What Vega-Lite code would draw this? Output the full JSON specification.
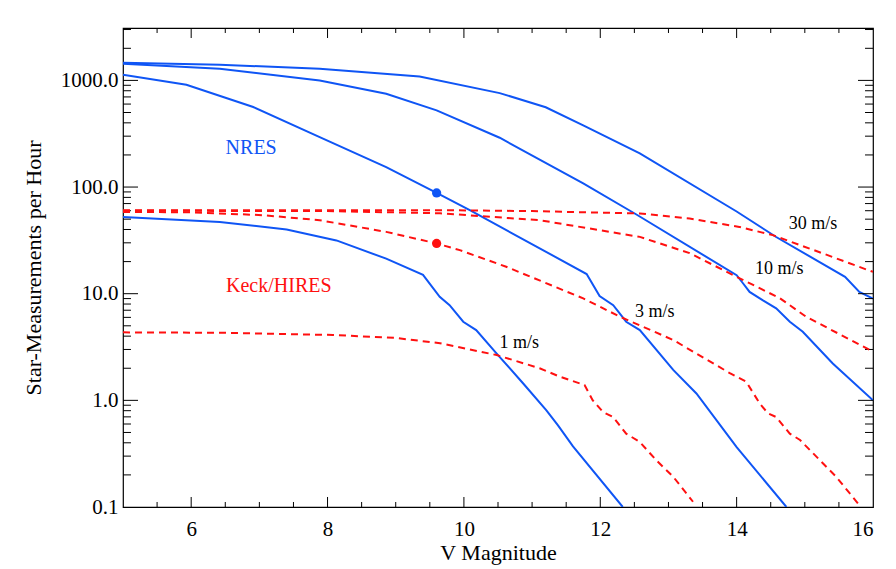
{
  "$schema": "https://vega.github.io/schema/vega-lite/v6.json",
  "autosize": {"type": "none"},
  "padding": {"left": 123, "top": 28, "right": 23, "bottom": 62},
  "width": 750,
  "height": 479,
  "background": "white",
  "view": {"stroke": "black", "strokeWidth": 1.2},
  "config": {
    "font": "Liberation Serif",
    "axis": {"labelFont": "Liberation Serif", "titleFont": "Liberation Serif", "labelColor": "black", "titleColor": "black", "titleFontWeight": "normal"}
  },
  "datasets": {
    "curves": [
      {"inst": "NRES", "curve": "n30", "V": 5.0, "N": 1465},
      {"inst": "NRES", "curve": "n30", "V": 6.42, "N": 1403},
      {"inst": "NRES", "curve": "n30", "V": 7.885, "N": 1287},
      {"inst": "NRES", "curve": "n30", "V": 9.35, "N": 1090},
      {"inst": "NRES", "curve": "n30", "V": 10.525, "N": 760},
      {"inst": "NRES", "curve": "n30", "V": 11.2, "N": 560},
      {"inst": "NRES", "curve": "n30", "V": 11.75, "N": 379},
      {"inst": "NRES", "curve": "n30", "V": 12.58, "N": 207},
      {"inst": "NRES", "curve": "n30", "V": 14.0, "N": 59},
      {"inst": "NRES", "curve": "n30", "V": 14.58, "N": 34},
      {"inst": "NRES", "curve": "n30", "V": 15.59, "N": 14.4},
      {"inst": "NRES", "curve": "n30", "V": 15.8, "N": 10.4},
      {"inst": "NRES", "curve": "n30", "V": 16.0, "N": 9.0},

      {"inst": "NRES", "curve": "n10", "V": 5.0, "N": 1430},
      {"inst": "NRES", "curve": "n10", "V": 6.42, "N": 1287},
      {"inst": "NRES", "curve": "n10", "V": 7.885, "N": 1000},
      {"inst": "NRES", "curve": "n10", "V": 8.86, "N": 750},
      {"inst": "NRES", "curve": "n10", "V": 9.6, "N": 524},
      {"inst": "NRES", "curve": "n10", "V": 10.525, "N": 290},
      {"inst": "NRES", "curve": "n10", "V": 11.75, "N": 108},
      {"inst": "NRES", "curve": "n10", "V": 12.53, "N": 55.3},
      {"inst": "NRES", "curve": "n10", "V": 14.0, "N": 14.9},
      {"inst": "NRES", "curve": "n10", "V": 14.09, "N": 12.6},
      {"inst": "NRES", "curve": "n10", "V": 14.19, "N": 10.4},
      {"inst": "NRES", "curve": "n10", "V": 14.38, "N": 8.7},
      {"inst": "NRES", "curve": "n10", "V": 14.58, "N": 7.28},
      {"inst": "NRES", "curve": "n10", "V": 14.78, "N": 5.46},
      {"inst": "NRES", "curve": "n10", "V": 14.97, "N": 4.4},
      {"inst": "NRES", "curve": "n10", "V": 15.41, "N": 2.22},
      {"inst": "NRES", "curve": "n10", "V": 16.0, "N": 1.0},

      {"inst": "NRES", "curve": "n3", "V": 5.0, "N": 1131},
      {"inst": "NRES", "curve": "n3", "V": 5.93, "N": 911},
      {"inst": "NRES", "curve": "n3", "V": 6.91, "N": 563},
      {"inst": "NRES", "curve": "n3", "V": 7.885, "N": 294},
      {"inst": "NRES", "curve": "n3", "V": 8.86, "N": 154},
      {"inst": "NRES", "curve": "n3", "V": 9.6, "N": 88},
      {"inst": "NRES", "curve": "n3", "V": 10.1, "N": 60},
      {"inst": "NRES", "curve": "n3", "V": 11.8, "N": 15.3},
      {"inst": "NRES", "curve": "n3", "V": 11.99, "N": 9.5},
      {"inst": "NRES", "curve": "n3", "V": 12.19, "N": 7.8},
      {"inst": "NRES", "curve": "n3", "V": 12.38, "N": 5.46},
      {"inst": "NRES", "curve": "n3", "V": 12.58, "N": 4.56},
      {"inst": "NRES", "curve": "n3", "V": 13.07, "N": 1.93},
      {"inst": "NRES", "curve": "n3", "V": 13.41, "N": 1.16},
      {"inst": "NRES", "curve": "n3", "V": 14.0, "N": 0.365},
      {"inst": "NRES", "curve": "n3", "V": 14.73, "N": 0.1},

      {"inst": "NRES", "curve": "n1", "V": 5.0, "N": 52.5},
      {"inst": "NRES", "curve": "n1", "V": 6.42, "N": 47.1},
      {"inst": "NRES", "curve": "n1", "V": 7.4, "N": 40},
      {"inst": "NRES", "curve": "n1", "V": 8.13, "N": 31.6},
      {"inst": "NRES", "curve": "n1", "V": 8.86, "N": 21.3},
      {"inst": "NRES", "curve": "n1", "V": 9.4, "N": 15.0},
      {"inst": "NRES", "curve": "n1", "V": 9.645, "N": 9.35},
      {"inst": "NRES", "curve": "n1", "V": 9.79, "N": 7.8},
      {"inst": "NRES", "curve": "n1", "V": 9.99, "N": 5.46},
      {"inst": "NRES", "curve": "n1", "V": 10.18, "N": 4.56},
      {"inst": "NRES", "curve": "n1", "V": 10.5, "N": 2.66},
      {"inst": "NRES", "curve": "n1", "V": 10.87, "N": 1.44},
      {"inst": "NRES", "curve": "n1", "V": 11.21, "N": 0.806},
      {"inst": "NRES", "curve": "n1", "V": 11.38, "N": 0.583},
      {"inst": "NRES", "curve": "n1", "V": 11.6, "N": 0.37},
      {"inst": "NRES", "curve": "n1", "V": 12.33, "N": 0.1},

      {"inst": "Keck", "curve": "k30", "V": 5.0, "N": 60.7},
      {"inst": "Keck", "curve": "k30", "V": 9.65, "N": 60.7},
      {"inst": "Keck", "curve": "k30", "V": 11.0, "N": 59.5},
      {"inst": "Keck", "curve": "k30", "V": 12.58, "N": 56.5},
      {"inst": "Keck", "curve": "k30", "V": 13.31, "N": 50.7},
      {"inst": "Keck", "curve": "k30", "V": 14.04, "N": 42.3},
      {"inst": "Keck", "curve": "k30", "V": 14.53, "N": 35.4},
      {"inst": "Keck", "curve": "k30", "V": 15.27, "N": 23.8},
      {"inst": "Keck", "curve": "k30", "V": 16.0, "N": 16.0},

      {"inst": "Keck", "curve": "k10", "V": 5.0, "N": 60},
      {"inst": "Keck", "curve": "k10", "V": 8.0, "N": 59.5},
      {"inst": "Keck", "curve": "k10", "V": 9.65, "N": 56.8},
      {"inst": "Keck", "curve": "k10", "V": 11.11, "N": 48.9},
      {"inst": "Keck", "curve": "k10", "V": 12.58, "N": 34.1},
      {"inst": "Keck", "curve": "k10", "V": 13.31, "N": 24},
      {"inst": "Keck", "curve": "k10", "V": 14.0, "N": 14.4},
      {"inst": "Keck", "curve": "k10", "V": 14.63, "N": 9.1},
      {"inst": "Keck", "curve": "k10", "V": 15.02, "N": 6.08},
      {"inst": "Keck", "curve": "k10", "V": 16.0, "N": 2.86},

      {"inst": "Keck", "curve": "k3", "V": 5.0, "N": 58.5},
      {"inst": "Keck", "curve": "k3", "V": 6.0, "N": 58},
      {"inst": "Keck", "curve": "k3", "V": 7.05, "N": 54.5},
      {"inst": "Keck", "curve": "k3", "V": 7.885, "N": 48.9},
      {"inst": "Keck", "curve": "k3", "V": 8.86, "N": 38.0},
      {"inst": "Keck", "curve": "k3", "V": 9.6, "N": 29.6},
      {"inst": "Keck", "curve": "k3", "V": 9.94, "N": 25.6},
      {"inst": "Keck", "curve": "k3", "V": 10.62, "N": 17.9},
      {"inst": "Keck", "curve": "k3", "V": 11.75, "N": 9.04},
      {"inst": "Keck", "curve": "k3", "V": 12.29, "N": 6.08},
      {"inst": "Keck", "curve": "k3", "V": 13.07, "N": 3.68},
      {"inst": "Keck", "curve": "k3", "V": 13.9, "N": 1.8},
      {"inst": "Keck", "curve": "k3", "V": 14.14, "N": 1.5},
      {"inst": "Keck", "curve": "k3", "V": 14.34, "N": 0.93},
      {"inst": "Keck", "curve": "k3", "V": 14.46, "N": 0.756},
      {"inst": "Keck", "curve": "k3", "V": 14.58, "N": 0.697},
      {"inst": "Keck", "curve": "k3", "V": 14.78, "N": 0.487},
      {"inst": "Keck", "curve": "k3", "V": 14.93, "N": 0.425},
      {"inst": "Keck", "curve": "k3", "V": 15.22, "N": 0.275},
      {"inst": "Keck", "curve": "k3", "V": 15.46, "N": 0.192},
      {"inst": "Keck", "curve": "k3", "V": 15.78, "N": 0.108},

      {"inst": "Keck", "curve": "k1", "V": 5.0, "N": 4.34},
      {"inst": "Keck", "curve": "k1", "V": 6.5, "N": 4.3},
      {"inst": "Keck", "curve": "k1", "V": 8.08, "N": 4.1},
      {"inst": "Keck", "curve": "k1", "V": 9.0, "N": 3.85},
      {"inst": "Keck", "curve": "k1", "V": 9.65, "N": 3.43},
      {"inst": "Keck", "curve": "k1", "V": 10.48, "N": 2.66},
      {"inst": "Keck", "curve": "k1", "V": 11.11, "N": 2.0},
      {"inst": "Keck", "curve": "k1", "V": 11.405, "N": 1.67},
      {"inst": "Keck", "curve": "k1", "V": 11.77, "N": 1.39},
      {"inst": "Keck", "curve": "k1", "V": 11.89, "N": 1.0},
      {"inst": "Keck", "curve": "k1", "V": 12.04, "N": 0.777},
      {"inst": "Keck", "curve": "k1", "V": 12.19, "N": 0.697},
      {"inst": "Keck", "curve": "k1", "V": 12.38, "N": 0.487},
      {"inst": "Keck", "curve": "k1", "V": 12.58, "N": 0.407},
      {"inst": "Keck", "curve": "k1", "V": 12.82, "N": 0.275},
      {"inst": "Keck", "curve": "k1", "V": 13.07, "N": 0.192},
      {"inst": "Keck", "curve": "k1", "V": 13.36, "N": 0.112}
    ],
    "dots": [
      {"inst": "NRES", "V": 9.6, "N": 88},
      {"inst": "Keck", "V": 9.6, "N": 29.6}
    ],
    "names": [
      {"text": "NRES", "inst": "NRES", "V": 6.88, "N": 203},
      {"text": "Keck/HIRES", "inst": "Keck", "V": 7.285, "N": 10.4}
    ],
    "precisions": [
      {"text": "30 m/s", "V": 15.12, "N": 40.8},
      {"text": "10 m/s", "V": 14.625, "N": 15.3},
      {"text": "3 m/s", "V": 12.8, "N": 6.08},
      {"text": "1 m/s", "V": 10.81, "N": 3.08}
    ],
    "xmajor": [{"V": 6}, {"V": 8}, {"V": 10}, {"V": 12}, {"V": 14}],
    "xminor": [
      {"V": 5.5}, {"V": 6.5}, {"V": 7}, {"V": 7.5}, {"V": 8.5}, {"V": 9}, {"V": 9.5}, {"V": 10.5},
      {"V": 11}, {"V": 11.5}, {"V": 12.5}, {"V": 13}, {"V": 13.5}, {"V": 14.5}, {"V": 15}, {"V": 15.5}
    ],
    "ymajor": [{"N": 1}, {"N": 10}, {"N": 100}, {"N": 1000}],
    "yminor": [
      {"N": 0.2}, {"N": 0.3}, {"N": 0.4}, {"N": 0.5}, {"N": 0.6}, {"N": 0.7}, {"N": 0.8}, {"N": 0.9},
      {"N": 2}, {"N": 3}, {"N": 4}, {"N": 5}, {"N": 6}, {"N": 7}, {"N": 8}, {"N": 9},
      {"N": 20}, {"N": 30}, {"N": 40}, {"N": 50}, {"N": 60}, {"N": 70}, {"N": 80}, {"N": 90},
      {"N": 200}, {"N": 300}, {"N": 400}, {"N": 500}, {"N": 600}, {"N": 700}, {"N": 800}, {"N": 900},
      {"N": 2000}, {"N": 3000}
    ]
  },
  "resolve": {"axis": {"x": "independent", "y": "independent"}},
  "layer": [
    {
      "data": {"name": "curves"},
      "transform": [{"filter": "datum.inst === 'NRES'"}],
      "mark": {"type": "line", "color": "#0f55f5", "strokeWidth": 2, "clip": true},
      "encoding": {
        "x": {"field": "V", "type": "quantitative", "scale": {"domain": [5, 16], "nice": false, "zero": false},
          "axis": {"orient": "bottom", "values": [6, 8, 10, 12, 14, 16], "ticks": false, "grid": false, "domain": false, "labelFontSize": 21, "labelPadding": 11, "title": "V Magnitude", "titleFontSize": 22, "titlePadding": 3}},
        "y": {"field": "N", "type": "quantitative", "scale": {"type": "log", "domain": [0.1, 3100], "nice": false},
          "axis": {"orient": "left", "values": [0.1, 1, 10, 100, 1000], "ticks": false, "grid": false, "domain": false, "labelFontSize": 21, "labelPadding": 5,
            "labelExpr": "datum.value < 0.5 ? '0.1' : format(datum.value, '.1f')",
            "title": "Star-Measurements per Hour", "titleFontSize": 22, "titleX": -90, "titleAngle": -90, "titleAlign": "center", "titleBaseline": "middle"}},
        "detail": {"field": "curve"}
      }
    },
    {
      "data": {"name": "xmajor"},
      "mark": {"type": "rule", "color": "black", "strokeWidth": 1},
      "encoding": {"x": {"field": "V", "type": "quantitative", "axis": null}, "y": {"datum": 0.1, "type": "quantitative", "axis": null}, "y2": {"datum": 0.1241}}
    },
    {
      "data": {"name": "xminor"},
      "mark": {"type": "rule", "color": "black", "strokeWidth": 1},
      "encoding": {"x": {"field": "V", "type": "quantitative", "axis": null}, "y": {"datum": 0.1, "type": "quantitative", "axis": null}, "y2": {"datum": 0.1114}}
    },
    {
      "data": {"name": "xmajor"},
      "mark": {"type": "rule", "color": "black", "strokeWidth": 1},
      "encoding": {"x": {"field": "V", "type": "quantitative", "axis": null}, "y": {"datum": 3100, "type": "quantitative", "axis": null}, "y2": {"datum": 2498}}
    },
    {
      "data": {"name": "xminor"},
      "mark": {"type": "rule", "color": "black", "strokeWidth": 1},
      "encoding": {"x": {"field": "V", "type": "quantitative", "axis": null}, "y": {"datum": 3100, "type": "quantitative", "axis": null}, "y2": {"datum": 2783}}
    },
    {
      "data": {"name": "ymajor"},
      "mark": {"type": "rule", "color": "black", "strokeWidth": 1},
      "encoding": {"y": {"field": "N", "type": "quantitative", "axis": null}, "x": {"datum": 5, "type": "quantitative", "axis": null}, "x2": {"datum": 5.22}}
    },
    {
      "data": {"name": "yminor"},
      "mark": {"type": "rule", "color": "black", "strokeWidth": 1},
      "encoding": {"y": {"field": "N", "type": "quantitative", "axis": null}, "x": {"datum": 5, "type": "quantitative", "axis": null}, "x2": {"datum": 5.117}}
    },
    {
      "data": {"name": "ymajor"},
      "mark": {"type": "rule", "color": "black", "strokeWidth": 1},
      "encoding": {"y": {"field": "N", "type": "quantitative", "axis": null}, "x": {"datum": 16, "type": "quantitative", "axis": null}, "x2": {"datum": 15.78}}
    },
    {
      "data": {"name": "yminor"},
      "mark": {"type": "rule", "color": "black", "strokeWidth": 1},
      "encoding": {"y": {"field": "N", "type": "quantitative", "axis": null}, "x": {"datum": 16, "type": "quantitative", "axis": null}, "x2": {"datum": 15.883}}
    },
    {
      "data": {"name": "curves"},
      "transform": [{"filter": "datum.inst === 'Keck'"}],
      "mark": {"type": "line", "color": "#ff1010", "strokeWidth": 2, "strokeDash": [7, 5], "clip": true},
      "encoding": {
        "x": {"field": "V", "type": "quantitative", "axis": null},
        "y": {"field": "N", "type": "quantitative", "axis": null},
        "detail": {"field": "curve"}
      }
    },
    {
      "data": {"name": "dots"},
      "mark": {"type": "circle", "size": 85, "opacity": 1},
      "encoding": {
        "x": {"field": "V", "type": "quantitative", "axis": null},
        "y": {"field": "N", "type": "quantitative", "axis": null},
        "color": {"field": "inst", "type": "nominal", "scale": {"domain": ["NRES", "Keck"], "range": ["#0f55f5", "#ff1010"]}, "legend": null}
      }
    },
    {
      "data": {"name": "names"},
      "mark": {"type": "text", "font": "Liberation Serif", "fontSize": 20, "align": "center", "baseline": "alphabetic"},
      "encoding": {
        "x": {"field": "V", "type": "quantitative", "axis": null},
        "y": {"field": "N", "type": "quantitative", "axis": null},
        "text": {"field": "text"},
        "color": {"field": "inst", "type": "nominal", "legend": null}
      }
    },
    {
      "data": {"name": "precisions"},
      "mark": {"type": "text", "font": "Liberation Serif", "fontSize": 18, "align": "center", "baseline": "alphabetic", "color": "black"},
      "encoding": {
        "x": {"field": "V", "type": "quantitative", "axis": null},
        "y": {"field": "N", "type": "quantitative", "axis": null},
        "text": {"field": "text"}
      }
    }
  ]
}
